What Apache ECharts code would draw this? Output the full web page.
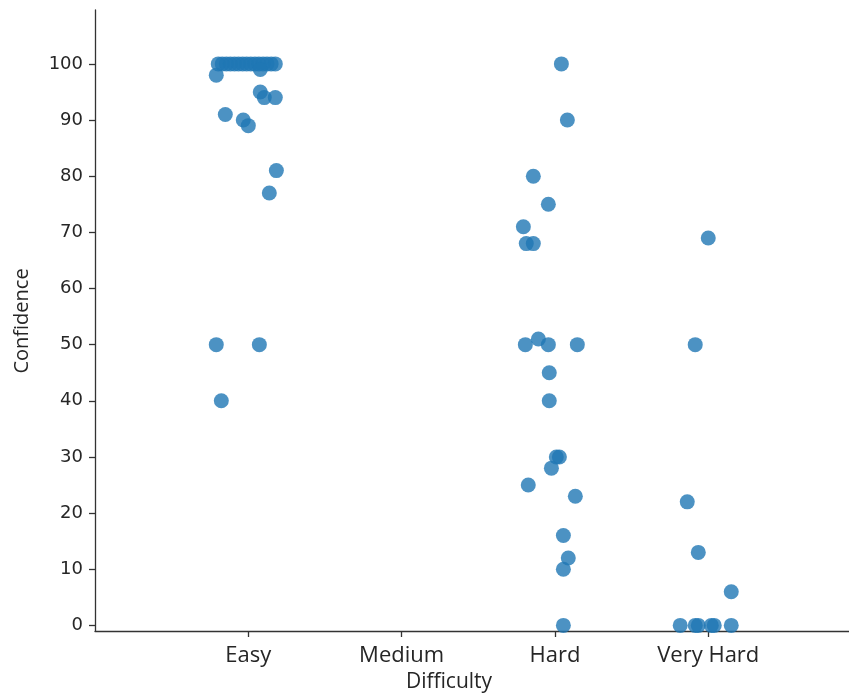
<!DOCTYPE html>
<html>
<head>
<meta charset="utf-8">
<script src="https://cdn.jsdelivr.net/npm/echarts@6/dist/echarts.min.js"></script>
<style>html,body{margin:0;padding:0;background:#fff}#c{width:849px;height:693px}</style>
</head>
<body>
<div id="c"></div>
<script>
// Categories and tick labels
const categories = ['Easy', 'Medium', 'Hard', 'Very Hard'];
const yTicks = [0, 10, 20, 30, 40, 50, 60, 70, 80, 90, 100];

// Confidence values per category, with the strip-plot jitter (in category widths)
const easyValues = [100, 100, 100, 100, 100, 100, 100, 100, 100, 100, 100, 100, 100, 100, 100,
                    98, 99, 95, 94, 94, 91, 90, 89, 81, 77, 50, 50, 40];
const easyJitter = [-0.196, -0.170, -0.143, -0.117, -0.090, -0.064, -0.037, -0.011, 0.016, 0.043, 0.069, 0.096, 0.122, 0.149, 0.176,
                    -0.209, 0.078, 0.078, 0.104, 0.176, -0.150, -0.033, 0.000, 0.183, 0.137, -0.209, 0.072, -0.176];

const mediumValues = [];
const mediumJitter = [];

const hardValues = [100, 90, 80, 75, 71, 68, 68, 50, 50, 50, 51, 45, 40, 30, 30, 28, 25, 23, 16, 12, 10, 0];
const hardJitter = [0.042, 0.081, -0.141, -0.043, -0.206, -0.187, -0.141, -0.193, -0.043, 0.146, -0.108, -0.037, -0.037,
                    0.009, 0.029, -0.023, -0.174, 0.133, 0.055, 0.087, 0.055, 0.055];

const veryHardValues = [69, 50, 22, 13, 6, 0, 0, 0, 0, 0, 0];
const veryHardJitter = [0.000, -0.085, -0.137, -0.065, 0.150, -0.183, -0.085, -0.065, 0.020, 0.039, 0.150];

const groups = [
  [easyValues, easyJitter],
  [mediumValues, mediumJitter],
  [hardValues, hardJitter],
  [veryHardValues, veryHardJitter]
];
const points = [];
groups.forEach(function (g, ci) {
  g[0].forEach(function (v, i) { points.push([ci + g[1][i], v]); });
});

const chart = echarts.init(document.getElementById('c'), null, {renderer: 'canvas'});
const axisColor = '#333333';
chart.setOption({
  animation: false,
  backgroundColor: '#ffffff',
  grid: {left: 95, right: 0, top: 10, bottom: 62, containLabel: false},
  xAxis: {
    type: 'value',
    min: -1,
    max: 3.918,
    axisLine: {show: true, onZero: false, lineStyle: {color: axisColor, width: 1.3}},
    axisTick: {show: true, length: 6, inside: false, customValues: [0, 1, 2, 3], lineStyle: {color: axisColor, width: 1.3}},
    axisLabel: {
      customValues: [0, 1, 2, 3],
      margin: 14,
      fontFamily: 'Open Sans',
      fontSize: 22,
      color: '#262626',
      formatter: function (v) { return categories[Math.round(v)]; }
    },
    splitLine: {show: false}
  },
  yAxis: {
    type: 'value',
    min: -1,
    max: 109.6,
    axisLine: {show: true, onZero: false, lineStyle: {color: axisColor, width: 1.3}},
    axisTick: {show: true, length: 6, customValues: yTicks, lineStyle: {color: axisColor, width: 1.3}},
    axisLabel: {
      customValues: yTicks,
      margin: 12,
      fontFamily: 'DejaVu Sans',
      fontSize: 18,
      color: '#262626'
    },
    splitLine: {show: false}
  },
  graphic: [
    {type: 'text', x: 22, y: 321, rotation: Math.PI / 2,
     style: {text: 'Confidence', fontFamily: 'Open Sans', fontSize: 20, fill: '#262626', align: 'center', verticalAlign: 'middle'}},
    {type: 'text', x: 449, y: 682,
     style: {text: 'Difficulty', fontFamily: 'Open Sans', fontSize: 21, fill: '#262626', align: 'center', verticalAlign: 'middle'}}
  ],
  series: [{
    type: 'scatter',
    data: points,
    symbol: 'circle',
    symbolSize: 15,
    itemStyle: {color: '#1f77b4', opacity: 0.8},
    emphasis: {disabled: true}
  }]
});
</script>
</body>
</html>
